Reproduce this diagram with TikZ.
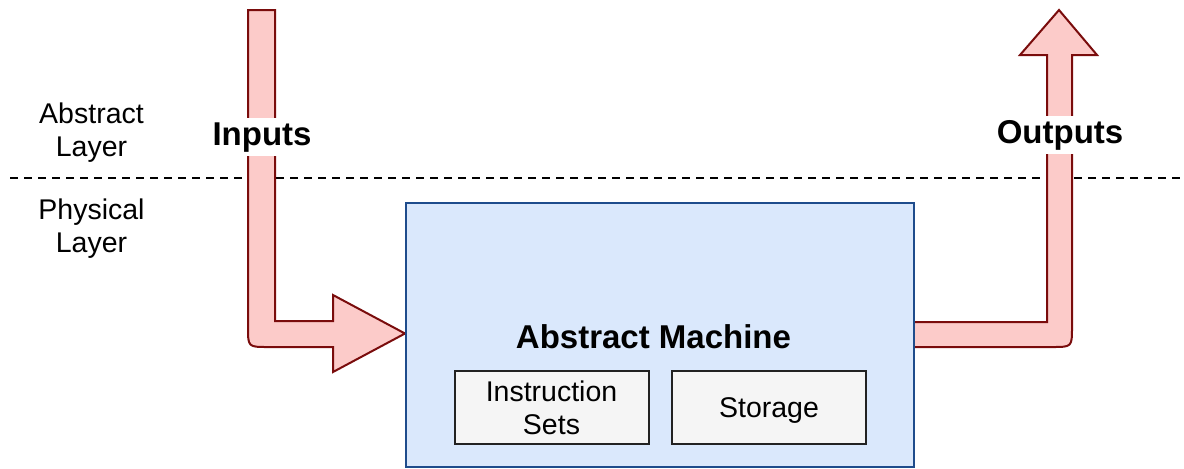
\documentclass[tikz,border=0pt]{standalone}
\usepackage{fontspec}
\setmainfont{Liberation Sans}

\definecolor{arrowfill}{HTML}{FCCBC9}
\definecolor{arrowline}{HTML}{7A0C0C}
\definecolor{machfill}{HTML}{DAE8FC}
\definecolor{machline}{HTML}{1E4C8C}
\definecolor{unitfill}{HTML}{F5F5F5}
\definecolor{unitline}{HTML}{222222}

\begin{document}
\begin{tikzpicture}[x=0.5pt,y=-0.5pt,
	bigarrow/.style={fill=arrowfill,draw=arrowline,line width=1pt,line join=miter},
	layerlbl/.style={align=center,font=\fontsize{14.25}{16.5}\selectfont},
	flowlbl/.style={fill=white,inner sep=2pt,font=\fontsize{16.5}{19}\selectfont\bfseries},
	unit/.style={draw=unitline,fill=unitfill,line width=1pt,minimum width=97pt,minimum height=36.5pt,inner sep=0pt,align=center,font=\fontsize{14.25}{16.5}\selectfont}]
	\useasboundingbox (0,0) rectangle (1184,468);

	% layer border
	\coordinate (sepL) at (10,178.3);
	\coordinate (sepR) at (1180,178.3);
	\draw[line width=1.1pt,dash pattern=on 4pt off 3pt] (sepL) -- (sepR);
	\node[layerlbl] (abstr) at (91.5,132.5) {Abstract\\Layer};
	\node[layerlbl] (phys) at (91.5,229) {Physical\\Layer};

	% input arrow
	\draw[bigarrow] (248,10) -- (275,10) -- (275,321) -- (333,321) -- (333,295) -- (405,333.5)
		-- (333,372) -- (333,347) -- (268,347) .. controls (248,347) .. (248,327) -- cycle;

	% output arrow
	\draw[bigarrow] (905,322) -- (1047,322) -- (1047,55) -- (1020,55) -- (1059,10) -- (1097,55)
		-- (1072,55) -- (1072,327) .. controls (1072,347) .. (1052,347) -- (905,347) -- cycle;

	% machine
	\node[draw=machline,fill=machfill,line width=1pt,minimum width=254pt,minimum height=132pt] (machine) at (660,335) {};
	\node[anchor=base,font=\fontsize{16.5}{19}\selectfont\bfseries] (title) at (653.5,348) {Abstract Machine};
	\node[unit] (instr) at (551.5,407.7) {Instruction\\Sets};
	\node[unit] (store) at (769,407.7) {};
	\node[anchor=base,font=\fontsize{14.25}{16.5}\selectfont] (storetxt) at (store.center) [yshift=-5pt] {Storage};

	\node[flowlbl,anchor=base] (inputs) at (262,145) {Inputs};
	\node[flowlbl,anchor=base] (outputs) at (1060,143) {Outputs};
\end{tikzpicture}
\end{document}
